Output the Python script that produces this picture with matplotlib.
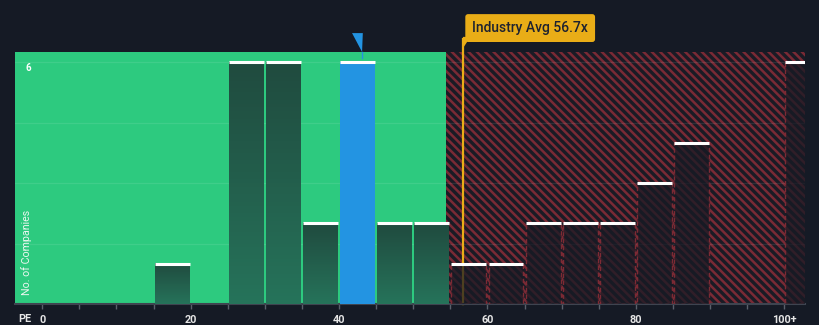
import numpy as np
import matplotlib.pyplot as plt
from matplotlib.colors import LinearSegmentedColormap
from matplotlib.patches import Polygon
import matplotlib.transforms as mtransforms

plt.rcParams['font.family'] = ['Roboto', 'DejaVu Sans']
plt.rcParams['hatch.linewidth'] = 1.8

# PE histogram, bins of width 5 (last bin is 100+)
bin_starts = [0, 5, 10, 15, 20, 25, 30, 35, 40, 45, 50, 55, 60, 65, 70, 75, 80, 85, 90, 95, 100]
counts = [0, 0, 0, 1, 0, 6, 6, 2, 6, 2, 2, 1, 1, 2, 2, 2, 3, 4, 0, 0, 6]
tick_values = [0, 20, 40, 60, 80, 100]
tick_labels = ['0', '20', '40', '60', '80', '100+']

company_pe = 43.2
industry_avg = 56.7
fair_limit = 54.4

bg = '#151a25'
green = '#2dca7f'
blue = '#2394e2'
red_hatch = '#7a2a35'
orange = '#e9ad17'

fig = plt.figure(figsize=(8.2, 3.25), dpi=100)
fig.patch.set_facecolor(bg)
ax = fig.add_axes([15 / 820, 21 / 325, 790 / 820, 252 / 325])
ax.set_facecolor(bg)

xmin, xmax = -3.68, 102.8
ymax = 6.25

# green / red background zones
ax.axvspan(xmin, fair_limit, color=green, lw=0, zorder=0)
ax.axvspan(fair_limit, xmax + 5, facecolor='#1a1b25', edgecolor=red_hatch,
           hatch='\\\\\\\\', lw=0, zorder=0)

for g in [1.5, 3, 4.5, 6]:
    ax.axhline(g, color='white', alpha=0.09, lw=0.9, zorder=1)

# industry average line
ax.axvline(industry_avg, ymin=0, ymax=1.05, color=orange, lw=1.6, zorder=2, clip_on=False)

grad_cmap = LinearSegmentedColormap.from_list('bar_grad', ['#26735a', '#204b3f'])
gradient = np.linspace(0, 1, 64).reshape(-1, 1)

bar_w = 4.7
for start, n in zip(bin_starts, counts):
    if n == 0:
        continue
    left = start + 0.15
    if start <= company_pe < start + 5:
        ax.bar(left, n, width=bar_w, align='edge', color=blue, lw=0, zorder=3)
    elif start < fair_limit:
        ax.imshow(gradient, extent=[left, left + bar_w, 0, n], origin='lower',
                  aspect='auto', cmap=grad_cmap, zorder=3)
    else:
        ax.bar(left, n, width=bar_w, align='edge', color=(0.09, 0.1, 0.14, 0.74),
               edgecolor='#7d2a34', lw=1, linestyle=(0, (3, 2)), zorder=3)
    ax.hlines(n, left, left + bar_w, color='white', lw=2.2, zorder=4)

ax.set_xlim(xmin, xmax)
ax.set_ylim(0, ymax)

for side in ['top', 'right', 'left']:
    ax.spines[side].set_visible(False)
ax.spines['bottom'].set_color('#3f4450')
ax.spines['bottom'].set_linewidth(1.5)
ax.set_yticks([])
ax.set_xticks(tick_values)
ax.set_xticklabels(tick_labels)
ax.set_xticks(range(0, 101, 5), minor=True)
ax.tick_params(axis='x', which='both', length=3.5, width=1, color='#5a606b',
               colors='#e6e6e6', labelsize=7.8, pad=4.5)
for lbl in ax.get_xticklabels():
    lbl.set_fontweight('bold')

ax.text(0.004, -0.06, 'PE', transform=ax.transAxes, ha='left', va='center',
        color='#e6e6e6', fontsize=7.8, fontweight='bold')
ax.text(0.0165, 5.86, '6', transform=mtransforms.blended_transform_factory(ax.transAxes, ax.transData),
        ha='center', va='center', color='white', fontsize=7, fontweight='bold')
ax.text(0.015, 1.29, 'No. of Companies', rotation=90,
        transform=mtransforms.blended_transform_factory(ax.transAxes, ax.transData),
        ha='center', va='center', color='#eef7f2', fontsize=7.7)

# industry average callout
bt = mtransforms.blended_transform_factory(ax.transData, ax.transAxes)
ax.text(industry_avg + 1.25, 1.095, 'Industry Avg 56.7x', transform=bt, ha='left', va='center',
        color='#1d2230', fontsize=10, fontweight='medium', clip_on=False, zorder=6,
        bbox=dict(boxstyle='round,pad=0.5,rounding_size=0.2', fc=orange, ec='none'))
ax.add_patch(Polygon([(industry_avg, 1.06), (industry_avg + 1.0, 1.06), (industry_avg, 1.015)],
                     closed=True, transform=bt, color=orange, lw=0, clip_on=False, zorder=6))

# company marker
ax.add_patch(Polygon([(company_pe - 1.45, 1.075), (company_pe, 1.075), (company_pe - 0.1, 1.0)],
                     closed=True, transform=bt, color=blue, lw=0, clip_on=False, zorder=6))
ax.plot([company_pe - 0.05, company_pe - 0.05], [1.0, 0.975], transform=bt, color=blue,
        lw=1, clip_on=False, zorder=6)

fig.savefig('out.png', dpi=100, facecolor=bg)
